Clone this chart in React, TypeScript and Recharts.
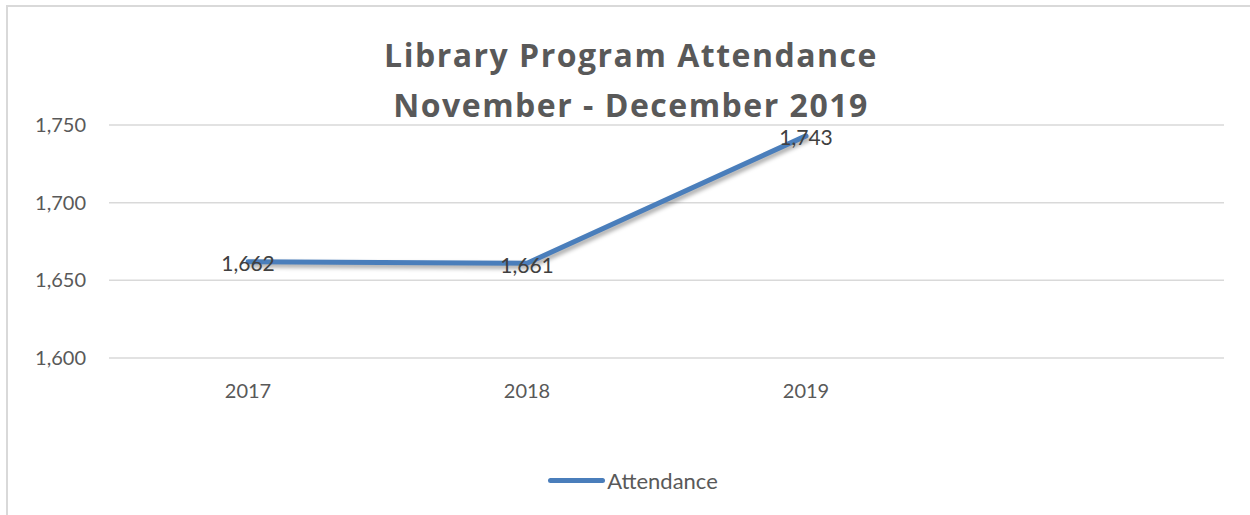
import { CartesianGrid, LabelList, Legend, Line, LineChart, XAxis, YAxis } from "recharts";

const years = ["2017", "2018", "2019", ""];
const attendance = [1662, 1661, 1743, null];
const yTicks = [1600, 1650, 1700, 1750];

const titleLines = ["Library Program Attendance", "November - December 2019"];
const seriesName = "Attendance";

const FONT = "Lato, 'Open Sans', sans-serif";
const TITLE_FONT = "'Open Sans', Lato, sans-serif";
const BLUE = "#4A7EBB";

const data = years.map((year, i) => ({ year, value: attendance[i] }));

const fmt = (v: number) => v.toLocaleString("en-US");

const LegendContent = () => (
  <div
    style={{
      display: "flex",
      alignItems: "center",
      justifyContent: "center",
      height: 24,
      fontFamily: FONT,
      fontSize: 22,
      color: "#595959",
      paddingLeft: 16,
    }}
  >
    <span
      style={{
        display: "inline-block",
        width: 57,
        height: 5,
        borderRadius: 3,
        background: BLUE,
        marginRight: 2,
      }}
    />
    {seriesName}
  </div>
);

const App: React.FC = () => {
  return (
    <div
      style={{
        position: "absolute",
        left: 0,
        top: 0,
        width: 1250,
        height: 515,
        overflow: "hidden",
        background: "#fff",
      }}
    >
      {/* chart frame, only left and top edges are visible */}
      <div
        style={{
          position: "absolute",
          left: 6,
          top: 5,
          width: 1400,
          height: 700,
          border: "2px solid #d9d9d9",
        }}
      />
      {titleLines.map((t, i) => (
        <div
          key={t}
          style={{
            position: "absolute",
            left: 0,
            top: 38 + i * 50,
            width: 1262,
            textAlign: "center",
            fontFamily: TITLE_FONT,
            fontWeight: 700,
            fontSize: 32,
            letterSpacing: 1.5,
            lineHeight: "33px",
            color: "#595959",
          }}
        >
          {t}
        </div>
      ))}
      <div style={{ position: "absolute", left: 0, top: 0 }}>
        <LineChart
          width={1250}
          height={515}
          data={data}
          margin={{ top: 125, right: 26, left: 9, bottom: 103 }}
        >
          <CartesianGrid vertical={false} stroke="#d9d9d9" strokeWidth={1.5} />
          <XAxis
            dataKey="year"
            axisLine={false}
            tickLine={false}
            tickSize={0}
            tickMargin={26}
            height={30}
            padding={{ left: 139, right: 139 }}
            tick={{ fill: "#595959", fontSize: 20, fontFamily: FONT }}
          />
          <YAxis
            domain={[1600, 1750]}
            ticks={yTicks}
            tickFormatter={fmt}
            axisLine={false}
            tickLine={false}
            tickSize={0}
            tickMargin={23}
            width={100}
            tick={{ fill: "#595959", fontSize: 20, fontFamily: FONT }}
          />
          <Legend
            verticalAlign="bottom"
            content={<LegendContent />}
            wrapperStyle={{ top: 468, bottom: "auto", left: 0, width: 1250 }}
          />
          <Line
            type="linear"
            dataKey="value"
            name={seriesName}
            stroke={BLUE}
            strokeWidth={5}
            strokeLinecap="round"
            dot={false}
            activeDot={false}
            isAnimationActive={false}
            style={{ filter: "drop-shadow(2px 3px 2px rgba(0,0,0,0.35))" }}
          >
            <LabelList
              dataKey="value"
              position="center"
              dy={2}
              formatter={(v: any) => (v == null ? "" : fmt(Number(v)))}
              fill="#404040"
              fontSize={21}
              fontFamily={FONT}
            />
          </Line>
        </LineChart>
      </div>
    </div>
  );
};

export default App;
